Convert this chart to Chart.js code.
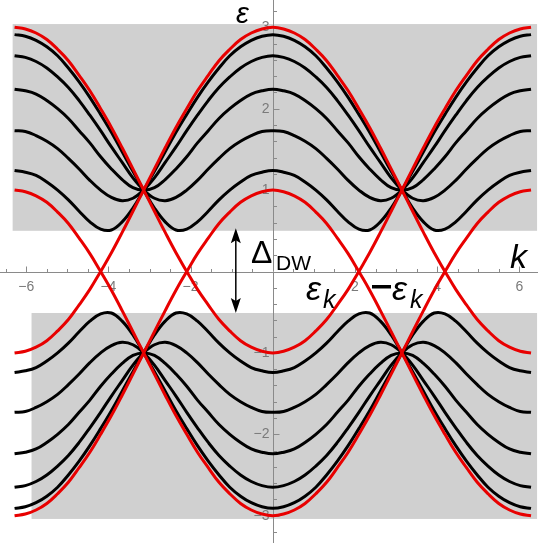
<!DOCTYPE html>
<html>
<head>
<meta charset="utf-8">
<script src="https://cdn.jsdelivr.net/npm/chart.js@4.4.1/dist/chart.umd.min.js"></script>
<style>
    html, body { margin: 0; padding: 0; background: #fff; }
    #caixa { width: 538px; height: 543px; }
</style>
</head>
<body>
<div id="caixa"><canvas id="grafico" width="538" height="543"></canvas></div>
<script>
// k de -2π a 2π, passo π/12
const valoresK = [
    -6.283, -6.021, -5.760, -5.498, -5.236, -4.974, -4.712, -4.451, -4.189, -3.927, -3.665, -3.403,
    -3.142, -2.880, -2.618, -2.356, -2.094, -1.833, -1.571, -1.309, -1.047, -0.785, -0.524, -0.262,
    0,
    0.262, 0.524, 0.785, 1.047, 1.309, 1.571, 1.833, 2.094, 2.356, 2.618, 2.880, 3.142,
    3.403, 3.665, 3.927, 4.189, 4.451, 4.712, 4.974, 5.236, 5.498, 5.760, 6.021, 6.283
];

// bandas vermelhas (parte positiva; a negativa é o espelho)
const vermelhoA = [
    3.00, 2.98, 2.93, 2.85, 2.73, 2.59, 2.41, 2.22, 2.00, 1.77, 1.52, 1.26,
    1.00, 0.74, 0.48, 0.23, 0.00, 0.22, 0.41, 0.59, 0.73, 0.85, 0.93, 0.98,
    1.00,
    0.98, 0.93, 0.85, 0.73, 0.59, 0.41, 0.22, 0.00, 0.23, 0.48, 0.74, 1.00,
    1.26, 1.52, 1.77, 2.00, 2.22, 2.41, 2.59, 2.73, 2.85, 2.93, 2.98, 3.00
];
const vermelhoB = [
    1.00, 0.98, 0.93, 0.85, 0.73, 0.59, 0.41, 0.22, 0.00, 0.23, 0.48, 0.74,
    1.00, 1.26, 1.52, 1.77, 2.00, 2.22, 2.41, 2.59, 2.73, 2.85, 2.93, 2.98,
    3.00,
    2.98, 2.93, 2.85, 2.73, 2.59, 2.41, 2.22, 2.00, 1.77, 1.52, 1.26, 1.00,
    0.74, 0.48, 0.23, 0.00, 0.22, 0.41, 0.59, 0.73, 0.85, 0.93, 0.98, 1.00
];

// bandas pretas
const preto1 = [
    2.91, 2.89, 2.84, 2.76, 2.65, 2.50, 2.33, 2.14, 1.93, 1.71, 1.47, 1.23,
    1.00, 0.78, 0.61, 0.51, 0.52, 0.61, 0.74, 0.88, 1.00, 1.10, 1.18, 1.22,
    1.24,
    1.22, 1.18, 1.10, 1.00, 0.88, 0.74, 0.61, 0.52, 0.51, 0.61, 0.78, 1.00,
    1.23, 1.47, 1.71, 1.93, 2.14, 2.33, 2.50, 2.65, 2.76, 2.84, 2.89, 2.91
];
const preto2 = [
    2.65, 2.63, 2.58, 2.50, 2.39, 2.26, 2.10, 1.92, 1.73, 1.53, 1.34, 1.15,
    1.00, 0.90, 0.87, 0.91, 1.00, 1.12, 1.26, 1.39, 1.51, 1.60, 1.67, 1.72,
    1.73,
    1.72, 1.67, 1.60, 1.51, 1.39, 1.26, 1.12, 1.00, 0.91, 0.87, 0.90, 1.00,
    1.15, 1.34, 1.53, 1.73, 1.92, 2.10, 2.26, 2.39, 2.50, 2.58, 2.63, 2.65
];
const preto3 = [
    2.24, 2.22, 2.18, 2.10, 2.00, 1.88, 1.73, 1.58, 1.41, 1.26, 1.13, 1.03,
    1.00, 1.03, 1.13, 1.26, 1.41, 1.58, 1.73, 1.88, 2.00, 2.10, 2.18, 2.22,
    2.24,
    2.22, 2.18, 2.10, 2.00, 1.88, 1.73, 1.58, 1.41, 1.26, 1.13, 1.03, 1.00,
    1.03, 1.13, 1.26, 1.41, 1.58, 1.73, 1.88, 2.00, 2.10, 2.18, 2.22, 2.24
];
const preto4 = [
    1.73, 1.72, 1.67, 1.60, 1.51, 1.39, 1.26, 1.12, 1.00, 0.91, 0.87, 0.90,
    1.00, 1.15, 1.34, 1.53, 1.73, 1.92, 2.10, 2.26, 2.39, 2.50, 2.58, 2.63,
    2.65,
    2.63, 2.58, 2.50, 2.39, 2.26, 2.10, 1.92, 1.73, 1.53, 1.34, 1.15, 1.00,
    0.90, 0.87, 0.91, 1.00, 1.12, 1.26, 1.39, 1.51, 1.60, 1.67, 1.72, 1.73
];
const preto5 = [
    1.24, 1.22, 1.18, 1.10, 1.00, 0.88, 0.74, 0.61, 0.52, 0.51, 0.61, 0.78,
    1.00, 1.23, 1.47, 1.71, 1.93, 2.14, 2.33, 2.50, 2.65, 2.76, 2.84, 2.89,
    2.91,
    2.89, 2.84, 2.76, 2.65, 2.50, 2.33, 2.14, 1.93, 1.71, 1.47, 1.23, 1.00,
    0.78, 0.61, 0.51, 0.52, 0.61, 0.74, 0.88, 1.00, 1.10, 1.18, 1.22, 1.24
];

const ticksX = [-6, -4, -2, 2, 4, 6];
const ticksY = [-3, -2, -1, 1, 2, 3];

// regiões cinzas (contínuo de bandas)
const faixasCinza = [
    { kMin: -6.33, kMax: 6.43, eMin: 0.50, eMax: 3.04 },
    { kMin: -5.87, kMax: 6.43, eMin: -3.04, eMax: -0.51 }
];

const COR_VERMELHA = 'rgb(232, 0, 0)';
const COR_EIXO = '#8a8a8a';
const COR_TEXTO_EIXO = '#7a7a7a';

function montarPontos(valores, sinal) {
    return valores.map((e, i) => ({ x: valoresK[i], y: sinal * e }));
}

// separa a curva vermelha nos bicos onde ela toca zero
function separarRamos(valores, sinal) {
    const ramos = [];
    let atual = [];
    valores.forEach((e, i) => {
        atual.push({ x: valoresK[i], y: sinal * e });
        if (e === 0 && atual.length > 1) {
            ramos.push(atual);
            atual = [{ x: valoresK[i], y: 0 }];
        }
    });
    if (atual.length > 1) ramos.push(atual);
    return ramos;
}

function criarDataset(dados, cor) {
    return {
        data: dados,
        borderColor: cor,
        borderWidth: 3,
        pointRadius: 0,
        fill: false,
        tension: 0.4,
        borderCapStyle: 'butt'
    };
}

const datasets = [];
[1, -1].forEach(sinal => {
    [vermelhoA, vermelhoB].forEach(curva => {
        separarRamos(curva, sinal).forEach(ramo => datasets.push(criarDataset(ramo, COR_VERMELHA)));
    });
});
[1, -1].forEach(sinal => {
    [preto1, preto2, preto3, preto4, preto5].forEach(curva => {
        datasets.push(criarDataset(montarPontos(curva, sinal), '#000'));
    });
});

const fundoEixos = {
    id: 'fundoEixos',
    beforeDatasetsDraw(chart) {
        const { ctx, chartArea, scales: { x, y } } = chart;
        ctx.save();

        ctx.fillStyle = '#d0d0d0';
        faixasCinza.forEach(f => {
            const x0 = x.getPixelForValue(f.kMin);
            const x1 = x.getPixelForValue(f.kMax);
            const y0 = y.getPixelForValue(f.eMax);
            const y1 = y.getPixelForValue(f.eMin);
            ctx.fillRect(x0, y0, x1 - x0, y1 - y0);
        });

        const origemX = Math.round(x.getPixelForValue(0)) + 0.5;
        const origemY = Math.round(y.getPixelForValue(0)) + 0.5;

        ctx.strokeStyle = COR_EIXO;
        ctx.lineWidth = 1;
        ctx.beginPath();
        ctx.moveTo(chartArea.left, origemY);
        ctx.lineTo(chartArea.right, origemY);
        ctx.moveTo(origemX, chartArea.top);
        ctx.lineTo(origemX, chartArea.bottom);

        // marcas do eixo k
        for (let v = -6.5; v <= 6.5; v += 0.5) {
            if (Math.abs(v) < 0.01) continue;
            const px = Math.round(x.getPixelForValue(v)) + 0.5;
            const maior = Math.abs(v % 2) < 0.01;
            ctx.moveTo(px, origemY);
            ctx.lineTo(px, origemY - (maior ? 6 : 3.5));
        }
        // marcas do eixo ε
        for (let i = -16; i <= 16; i++) {
            if (i === 0) continue;
            const v = i * 0.2;
            const py = Math.round(y.getPixelForValue(v)) + 0.5;
            const maior = i % 5 === 0;
            ctx.moveTo(origemX, py);
            ctx.lineTo(origemX + (maior ? 6 : 3.5), py);
        }
        ctx.stroke();

        ctx.fillStyle = COR_TEXTO_EIXO;
        ctx.font = '14px "Liberation Sans", Arial, sans-serif';
        ctx.textAlign = 'center';
        ctx.textBaseline = 'middle';
        ticksX.forEach(v => {
            ctx.fillText(String(v).replace('-', '\u2212'), x.getPixelForValue(v), origemY + 15);
        });
        ctx.textAlign = 'right';
        ticksY.forEach(v => {
            ctx.fillText(String(v).replace('-', '\u2212'), origemX - 4, y.getPixelForValue(v));
        });
        ctx.restore();
    }
};

const rotulos = {
    id: 'rotulos',
    afterDatasetsDraw(chart) {
        const { ctx, scales: { x, y } } = chart;
        ctx.save();
        ctx.fillStyle = '#000';
        ctx.textAlign = 'left';
        ctx.textBaseline = 'alphabetic';
        const fonte = (tam, italico) => `${italico ? 'italic ' : ''}${tam}px "Liberation Sans", Arial, sans-serif`;

        ctx.font = fonte(29, true);
        ctx.fillText('ε', 236, 23);

        ctx.font = fonte(34, true);
        ctx.fillText('k', 510, 268);

        ctx.font = fonte(32, false);
        ctx.fillText('Δ', 251, 263);
        ctx.font = fonte(21, false);
        ctx.fillText('DW', 276, 270);

        ctx.font = fonte(34, true);
        ctx.fillText('ε', 306, 300);
        ctx.fillText('ε', 392, 300);
        ctx.font = fonte(25, true);
        ctx.fillText('k', 323, 308);
        ctx.fillText('k', 410, 308);
        ctx.fillStyle = '#000';
        ctx.fillRect(372, 285, 19, 3.5);

        // seta dupla do gap
        const ax = x.getPixelForValue(-0.9);
        const topo = y.getPixelForValue(0.53);
        const base = y.getPixelForValue(-0.51);
        ctx.strokeStyle = '#000';
        ctx.lineWidth = 1.5;
        ctx.beginPath();
        ctx.moveTo(ax, topo + 10);
        ctx.lineTo(ax, base - 10);
        ctx.stroke();
        ctx.beginPath();
        ctx.moveTo(ax, topo);
        ctx.lineTo(ax - 5, topo + 15);
        ctx.lineTo(ax, topo + 12);
        ctx.lineTo(ax + 5, topo + 15);
        ctx.closePath();
        ctx.moveTo(ax, base);
        ctx.lineTo(ax - 5, base - 15);
        ctx.lineTo(ax, base - 12);
        ctx.lineTo(ax + 5, base - 15);
        ctx.closePath();
        ctx.fill();
        ctx.restore();
    }
};

new Chart(document.getElementById('grafico'), {
    type: 'line',
    data: { datasets },
    options: {
        responsive: false,
        animation: false,
        layout: { padding: 0 },
        plugins: { legend: { display: false }, tooltip: { enabled: false } },
        scales: {
            x: { type: 'linear', min: -6.6375, max: 6.4525, display: false },
            y: { type: 'linear', min: -3.3354, max: 3.3354, display: false }
        }
    },
    plugins: [fundoEixos, rotulos]
});
</script>
</body>
</html>
